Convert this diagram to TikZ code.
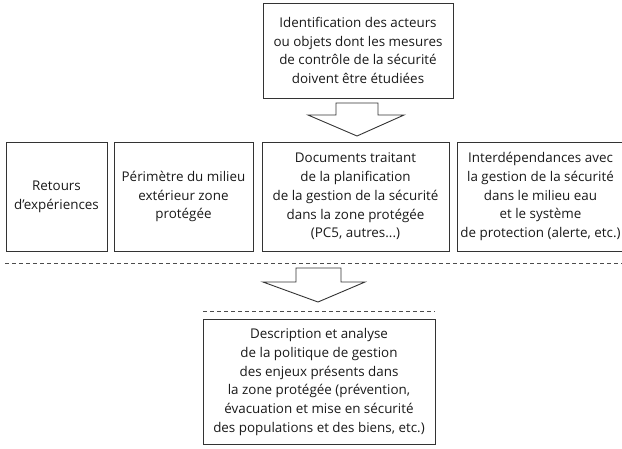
\documentclass[tikz,border=0pt]{standalone}
\usepackage{fontspec}
\setmainfont{Open Sans}
\begin{document}
\begin{tikzpicture}[x=1pt,y=-1pt,
  box/.style={draw=black!80, line width=0.9pt, align=center, inner sep=0pt,
    font=\fontsize{13.4}{18.8}\selectfont, text=black!90},
  bigarrow/.style={draw=black!80, line width=0.9pt, fill=white, line join=miter},
  sep/.style={draw=black!70, line width=0.8pt, dash pattern=on 4pt off 3pt}]
\useasboundingbox (0,0) rectangle (622,448);

% source box
\node[box, minimum width=190pt, minimum height=95pt] (src) at (358,50.5)
  {Identification des acteurs\\ou objets dont les mesures\\de contrôle de la sécurité\\doivent être étudiées};

% four input boxes
\node[box, minimum width=101pt, minimum height=109pt] (b1) at (56.5,196.5)
  {Retours\\d’expériences};
\node[box, minimum width=139pt, minimum height=109pt] (b2) at (183.5,196.5)
  {Périmètre du milieu\\extérieur zone\\protégée};
\node[box, minimum width=187pt, minimum height=109pt] (b3) at (355.5,196.5)
  {Documents traitant\\de la planification\\de la gestion de la sécurité\\dans la zone protégée\\(PC5, autres...)};
\node[box, minimum width=167pt, minimum height=109pt] (b4) at (540.5,196.5)
  {Interdépendances avec\\la gestion de la sécurité\\dans le milieu eau\\et le système\\de protection (alerte, etc.)};

% result box
\node[box, minimum width=232pt, minimum height=125pt] (res) at (319,382)
  {Description et analyse\\de la politique de gestion\\des enjeux présents dans\\la zone protégée (prévention,\\évacuation et mise en sécurité\\des populations et des biens, etc.)};

% block arrows
\draw[bigarrow] (336,103) -- (378,103) -- (378,115) -- (404,115) -- (357,136)
  -- (308,115) -- (336,115) -- cycle;
\draw[bigarrow] (296,268) -- (341,268) -- (341,282) -- (365,282) -- (318,302)
  -- (263,282) -- (296,282) -- cycle;

% dashed separators
\coordinate (s1a) at (5,263);
\coordinate (s1b) at (622,263);
\draw[sep] (s1a) -- (s1b);
\coordinate (s2a) at (203,311);
\coordinate (s2b) at (435,311);
\draw[sep] (s2a) -- (s2b);
\end{tikzpicture}
\end{document}
